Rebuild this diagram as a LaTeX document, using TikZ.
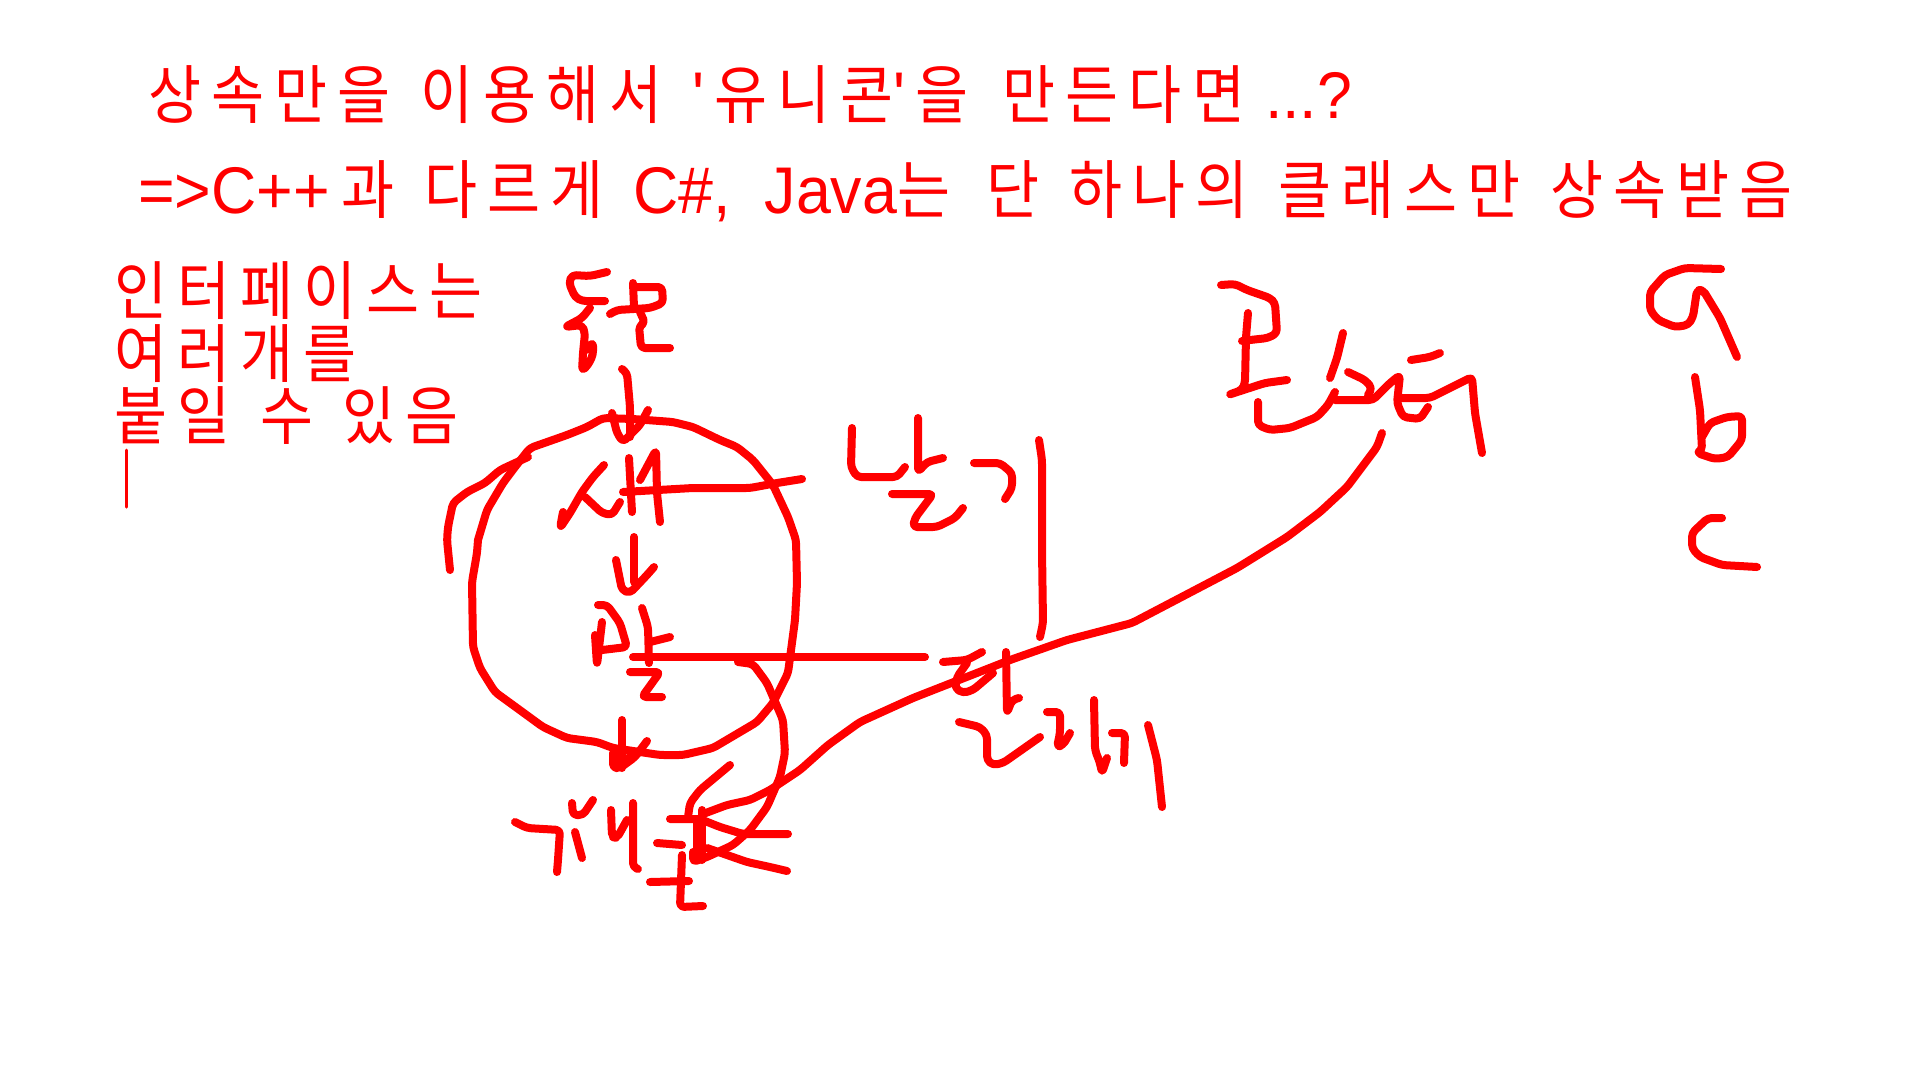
\documentclass[tikz,border=0pt]{standalone}
\usepackage{fontspec}
\usepackage{tikz}
\newfontfamily\kofont[FakeStretch=0.9,LetterSpace=15.7,WordSpace=1.3]{Noto Sans CJK KR}
\newfontfamily\lafont[FakeStretch=0.95]{Liberation Sans}
\newcommand{\la}[1]{{\lafont\fontsize{66}{66}\selectfont #1}}
\tikzset{
  pen/.style={red,line width=8pt,line cap=round,line join=round,rounded corners=4pt},
  thinpen/.style={red,line width=3pt,line cap=round},
  memo/.style={red,anchor=base west,inner sep=0pt,font=\kofont\fontsize{64}{64}\selectfont}
}

\begin{document}
\begin{tikzpicture}[x=1pt,y=-1pt]
\useasboundingbox (0,0) rectangle (1920,1080);

\node[memo] (title) at (148,118) {상속만을 이용해서 \la{'}\hspace{10pt}유니콘\la{'}\hspace{10pt}을\hspace{5pt} 만든다면\hspace{20pt}\la{...?}};
\node[memo] (subtitle) at (138,213) {\la{=>C++}\hspace{12pt}과 다르게 \la{C\#,\hspace{16pt} Java}는\hspace{7pt} 단 하나의 클래스만 상속받음};
\node[memo] (sideone) at (114,314) {인터페이스는};
\node[memo] (sidetwo) at (114,377) {여러개를};
\node[memo] (sidethree) at (114,439) {붙일 수 있음};
\draw[thinpen] (126,450) -- (126,507);

\draw[pen] (607,272) -- (590,276) -- (572,275) -- (569,283) -- (575,297) -- (582,301) -- (605,301);
\draw[pen] (590,308) -- (582,318) -- (565,327) -- (582,325) -- (585,333) -- (583,353) -- (582,371) -- (588,365) -- (593,355) -- (593,342) -- (586,350);
\draw[pen] (635,287) -- (662,287) -- (663,303) -- (650,308) -- (617,310) -- (610,314);
\draw[pen] (633,283) -- (634,307);
\draw[pen] (640,312) -- (645,323) -- (639,326) -- (641,348) -- (670,348);

\draw[pen] (622,369) -- (627,373) -- (630,407) -- (630,437);
\draw[pen] (612,413) -- (617,433) -- (623,442) -- (640,425) -- (648,410);

\draw[pen] (450,570) -- (447,540) -- (448,527) -- (453,503) -- (467,492) -- (485,483) -- (500,470) -- (528,457);
\draw[pen] (478,540) -- (487,510) -- (503,483) -- (515,467) -- (530,448) -- (567,435) -- (587,427) -- (603,418) -- (633,419) -- (673,422) -- (693,427) -- (720,440) -- (737,447) -- (753,460) -- (773,485) -- (788,517) -- (796,540) -- (797,583) -- (795,620) -- (788,673) -- (773,703) -- (757,722) -- (713,748) -- (683,755) -- (660,755) -- (640,752) -- (613,748) -- (597,742) -- (567,738) -- (543,727) -- (517,708) -- (495,692) -- (480,668) -- (473,647) -- (472,582) -- (477,553) -- (478,540);

\draw[pen] (604,465) -- (593,477) -- (582,492) -- (570,513) -- (560,528) -- (563,512);
\draw[pen] (585,497) -- (602,513) -- (612,515) -- (620,502);
\draw[pen] (629,458) -- (632,512);
\draw[pen] (640,480) -- (656,450) -- (657,493) -- (660,522);
\draw[pen] (623,492) -- (693,488) -- (750,488) -- (777,483) -- (802,479);

\draw[pen] (634,537) -- (634,582);
\draw[pen] (616,560) -- (622,590) -- (630,593) -- (647,575) -- (654,567);

\draw[pen] (598,605) -- (607,605) -- (620,623) -- (627,647) -- (602,650);
\draw[pen] (602,622) -- (597,665) -- (595,635);
\draw[pen] (642,608) -- (648,627) -- (649,663);
\draw[pen] (650,642) -- (670,637);
\draw[pen] (633,657) -- (925,657);
\draw[pen] (630,672) -- (660,672) -- (642,697) -- (662,697);

\draw[pen] (622,720) -- (622,768);
\draw[pen] (613,753) -- (613,768) -- (620,768) -- (635,757) -- (647,741);
\draw[pen] (617,755) -- (617,765) -- (630,757);

\draw[pen] (738,662) -- (753,664) -- (767,683) -- (783,720) -- (785,753) -- (780,777) -- (767,807) -- (750,830) -- (733,845) -- (707,857) -- (693,862) -- (693,852);
\draw[pen] (1382,433) -- (1377,447) -- (1347,487) -- (1320,512) -- (1287,537) -- (1237,568) -- (1132,623) -- (1067,640) -- (1010,660) -- (913,698) -- (860,722) -- (828,745) -- (800,770) -- (770,790) -- (750,800) -- (727,805) -- (703,814);

\draw[pen] (730,765) -- (700,790) -- (690,803) -- (688,817);
\draw[pen] (670,819) -- (700,819) -- (720,827) -- (743,834) -- (788,834);
\draw[pen] (702,810) -- (702,860);
\draw[pen] (697,820) -- (697,860);
\draw[pen] (707,848) -- (747,862) -- (770,867) -- (787,871);

\draw[pen] (515,822) -- (527,828) -- (560,830) -- (558,860) -- (557,872);
\draw[pen] (575,832) -- (582,858);
\draw[pen] (572,803) -- (573,815) -- (583,815) -- (593,800);
\draw[pen] (611,810) -- (612,837) -- (617,838) -- (627,820);
\draw[pen] (633,803) -- (633,867) -- (638,869);
\draw[pen] (657,843) -- (682,845);
\draw[pen] (682,855) -- (680,907) -- (703,906);
\draw[pen] (650,882) -- (689,881);

\draw[pen] (852,428) -- (851,467) -- (857,477) -- (897,477) -- (905,467);
\draw[pen] (918,418) -- (918,472) -- (927,462) -- (943,458);
\draw[pen] (892,494) -- (933,494) -- (915,518) -- (913,527) -- (937,527) -- (955,518) -- (963,508);
\draw[pen] (974,463) -- (1000,463) -- (1012,473) -- (1012,488) -- (1005,499);
\draw[pen] (1039,440) -- (1042,460) -- (1042,550) -- (1043,623) -- (1040,637);

\draw[pen] (943,662) -- (967,660) -- (982,652);
\draw[pen] (967,663) -- (957,677) -- (955,688) -- (963,693) -- (973,690) -- (993,673);
\draw[pen] (1006,652) -- (1007,713) -- (1012,700) -- (1019,698);
\draw[pen] (959,722) -- (980,727) -- (987,735) -- (987,760) -- (993,765) -- (1003,763) -- (1040,737);
\draw[pen] (1047,712) -- (1060,712) -- (1060,733) -- (1057,747) -- (1063,745) -- (1070,733);
\draw[pen] (1094,700) -- (1095,750) -- (1100,763) -- (1102,773) -- (1107,758);
\draw[pen] (1112,733) -- (1125,733) -- (1124,763);
\draw[pen] (1148,725) -- (1157,760) -- (1162,807);

\draw[pen] (1221,285) -- (1235,284) -- (1247,290) -- (1270,298) -- (1275,303) -- (1277,333) -- (1268,338) -- (1250,340) -- (1242,341);
\draw[pen] (1248,313) -- (1246,337) -- (1245,383) -- (1242,390) -- (1228,395) -- (1265,383) -- (1287,380);
\draw[pen] (1258,402) -- (1258,425) -- (1270,430) -- (1290,428) -- (1317,417) -- (1328,405) -- (1335,392);
\draw[pen] (1343,333) -- (1337,358) -- (1330,378);
\draw[pen] (1348,372) -- (1365,380) -- (1372,388) -- (1368,395);
\draw[pen] (1335,400) -- (1373,400) -- (1390,383) -- (1400,375) -- (1397,403) -- (1403,417) -- (1420,419) -- (1428,407);
\draw[pen] (1411,360) -- (1430,357) -- (1440,353);
\draw[pen] (1400,398) -- (1430,398) -- (1472,377) -- (1475,413) -- (1482,453);

\draw[pen] (1721,269) -- (1685,268) -- (1665,275) -- (1650,292) -- (1650,310) -- (1658,320) -- (1675,327) -- (1688,325) -- (1693,317) -- (1697,290) -- (1703,290) -- (1720,318) -- (1737,357);
\draw[pen] (1695,377) -- (1700,410) -- (1702,450) -- (1697,453) -- (1715,459) -- (1728,457) -- (1742,440) -- (1742,416) -- (1727,417) -- (1710,423) -- (1702,437);
\draw[pen] (1722,518) -- (1708,518) -- (1692,533) -- (1692,548) -- (1700,557) -- (1722,565) -- (1757,567);
\end{tikzpicture}
\end{document}
